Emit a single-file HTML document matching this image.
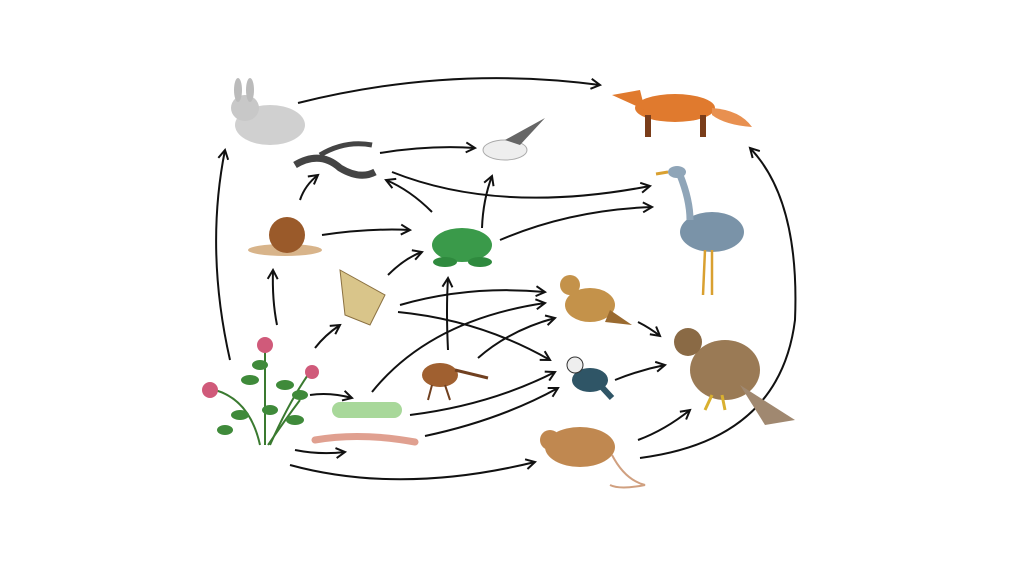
<!DOCTYPE html>
<html><head><meta charset="utf-8"><style>
html,body{margin:0;padding:0;background:#fff;width:1024px;height:576px;overflow:hidden}
svg{display:block}
</style></head><body>
<svg width="1024" height="576" viewBox="0 0 1024 576" xmlns="http://www.w3.org/2000/svg">
<defs>
<marker id="a" markerWidth="12" markerHeight="12" refX="10" refY="6" orient="auto" markerUnits="userSpaceOnUse">
<path d="M1,1 L10,6 L1,11" fill="none" stroke="#111" stroke-width="2"/>
</marker>
</defs>
<g fill="none" stroke="#111" stroke-width="2" marker-end="url(#a)">
<path d="M298,103 Q450,65 600,85"/>
<path d="M230,360 Q205,250 225,150"/>
<path d="M380,153 Q430,145 475,148"/>
<path d="M392,172 Q500,215 650,186"/>
<path d="M432,212 Q410,190 386,180"/>
<path d="M482,228 Q483,200 492,176"/>
<path d="M500,240 Q570,210 652,207"/>
<path d="M300,200 Q305,185 318,175"/>
<path d="M322,235 Q370,228 410,230"/>
<path d="M277,325 Q272,300 273,270"/>
<path d="M315,348 Q325,335 340,325"/>
<path d="M388,275 Q405,258 422,252"/>
<path d="M400,305 Q470,285 545,292"/>
<path d="M398,312 Q480,320 550,360"/>
<path d="M448,350 Q446,310 448,278"/>
<path d="M478,358 Q510,330 555,318"/>
<path d="M310,395 Q330,392 352,398"/>
<path d="M372,392 Q430,320 545,303"/>
<path d="M410,415 Q490,405 555,372"/>
<path d="M425,436 Q500,420 558,388"/>
<path d="M295,450 Q320,455 345,452"/>
<path d="M290,465 Q400,495 535,462"/>
<path d="M615,380 Q640,370 665,365"/>
<path d="M638,322 Q650,328 660,336"/>
<path d="M638,440 Q665,430 690,410"/>
<path d="M640,458 Q780,440 795,320 Q800,200 750,148"/>
</g>
<!-- rabbit -->
<ellipse cx="270" cy="125" rx="35" ry="20" fill="#d0d0d0"/>
<ellipse cx="245" cy="108" rx="14" ry="13" fill="#c8c8c8"/>
<ellipse cx="238" cy="90" rx="4" ry="12" fill="#bbb"/>
<ellipse cx="250" cy="90" rx="4" ry="12" fill="#bbb"/>
<!-- fox -->
<ellipse cx="675" cy="108" rx="40" ry="14" fill="#e07a2e"/>
<path d="M612,95 L640,90 L645,110 Z" fill="#e07a2e"/>
<path d="M712,108 Q740,110 752,127 Q725,125 712,115Z" fill="#e89050"/>
<rect x="645" y="115" width="6" height="22" fill="#7a3d1a"/>
<rect x="700" y="115" width="6" height="22" fill="#7a3d1a"/>
<!-- gull -->
<ellipse cx="505" cy="150" rx="22" ry="10" fill="#eee" stroke="#aaa"/>
<path d="M505,140 L545,118 L520,145 Z" fill="#666"/>
<!-- snake -->
<path d="M295,165 Q320,150 340,168 Q360,180 375,172" fill="none" stroke="#444" stroke-width="7"/>
<path d="M320,155 Q345,140 372,145" fill="none" stroke="#444" stroke-width="5"/>
<!-- heron -->
<ellipse cx="712" cy="232" rx="32" ry="20" fill="#7a93a8"/>
<path d="M680,175 Q690,200 690,220" stroke="#8fa5b8" stroke-width="7" fill="none"/>
<ellipse cx="677" cy="172" rx="9" ry="6" fill="#8fa5b8"/>
<path d="M668,172 L656,174" stroke="#d9a030" stroke-width="3"/>
<path d="M705,250 L703,295 M712,250 L712,295" stroke="#d9a030" stroke-width="2.5"/>
<!-- snail -->
<ellipse cx="285" cy="250" rx="37" ry="6" fill="#d8b48a"/>
<circle cx="287" cy="235" r="18" fill="#9a5a2a"/>
<!-- frog -->
<ellipse cx="462" cy="245" rx="30" ry="17" fill="#3a9a4a"/>
<ellipse cx="445" cy="262" rx="12" ry="5" fill="#2f8a3e"/>
<ellipse cx="480" cy="262" rx="12" ry="5" fill="#2f8a3e"/>
<!-- moth -->
<path d="M340,270 L385,295 L370,325 L345,315 Z" fill="#d9c58a" stroke="#8a7040"/>
<!-- thrush -->
<ellipse cx="590" cy="305" rx="25" ry="17" fill="#c4924a"/>
<circle cx="570" cy="285" r="10" fill="#c4924a"/>
<path d="M610,310 L632,325 L605,322Z" fill="#9a6a30"/>
<!-- tit -->
<ellipse cx="590" cy="380" rx="18" ry="12" fill="#2f5566"/>
<circle cx="575" cy="365" r="8" fill="#eee" stroke="#333"/>
<path d="M600,385 L612,398" stroke="#2f5566" stroke-width="6"/>
<!-- hawk -->
<ellipse cx="725" cy="370" rx="35" ry="30" fill="#9a7a55"/>
<circle cx="688" cy="342" r="14" fill="#8a6a45"/>
<path d="M740,385 L795,420 L765,425 Z" fill="#a08870"/>
<path d="M712,395 L705,410 M722,395 L725,410" stroke="#d9b030" stroke-width="3"/>
<!-- clover -->
<g stroke="#3a7a30" stroke-width="2" fill="none">
<path d="M260,445 Q250,400 215,390"/><path d="M265,445 Q265,400 265,345"/>
<path d="M270,445 Q290,400 310,372"/><path d="M268,445 Q285,420 300,400"/>
</g>
<g fill="#3f8a3a">
<ellipse cx="240" cy="415" rx="9" ry="5"/><ellipse cx="285" cy="385" rx="9" ry="5"/>
<ellipse cx="250" cy="380" rx="9" ry="5"/><ellipse cx="295" cy="420" rx="9" ry="5"/>
<ellipse cx="225" cy="430" rx="8" ry="5"/><ellipse cx="270" cy="410" rx="8" ry="5"/>
<ellipse cx="260" cy="365" rx="8" ry="5"/><ellipse cx="300" cy="395" rx="8" ry="5"/>
</g>
<circle cx="210" cy="390" r="8" fill="#d05a7a"/>
<circle cx="265" cy="345" r="8" fill="#d05a7a"/>
<circle cx="312" cy="372" r="7" fill="#d05a7a"/>
<!-- weevil -->
<ellipse cx="440" cy="375" rx="18" ry="12" fill="#a06030"/>
<path d="M455,370 L488,378" stroke="#704020" stroke-width="3"/>
<path d="M432,385 L428,400 M445,385 L450,400" stroke="#704020" stroke-width="2"/>
<!-- caterpillar -->
<rect x="332" y="402" width="70" height="16" rx="8" fill="#a8d89a"/>
<!-- worm -->
<path d="M315,440 Q360,432 415,442" stroke="#e0a090" stroke-width="7" fill="none" stroke-linecap="round"/>
<!-- mouse -->
<ellipse cx="580" cy="447" rx="35" ry="20" fill="#c08850"/>
<circle cx="550" cy="440" r="10" fill="#c08850"/>
<path d="M612,455 Q625,480 645,485 Q620,490 610,485" stroke="#d0a080" stroke-width="2" fill="none"/>
</svg>
</body></html>
